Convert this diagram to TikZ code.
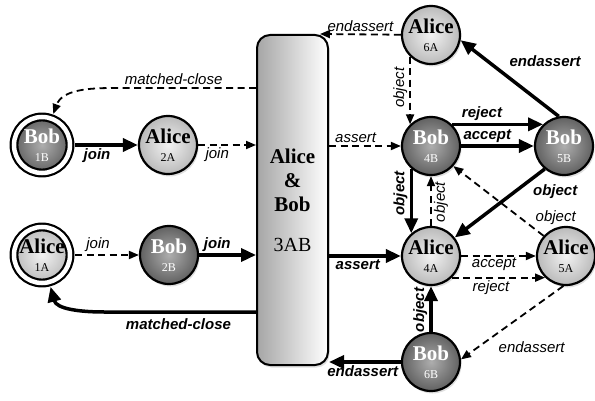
\documentclass[tikz,border=0pt]{standalone}
\usepackage{fontspec}
\setmainfont{Liberation Serif}
\newfontfamily\labelfont{Liberation Sans}
\usetikzlibrary{arrows.meta,positioning,shadows}
\newcommand{\idsize}{\fontsize{12}{14}\selectfont\mdseries}

\begin{document}
\begin{tikzpicture}[x=1pt,y=-1pt,node distance=110pt,
    agent/.style={circle,draw,line width=2.2pt,minimum size=58pt,inner sep=0pt,align=center,
      font=\fontsize{21}{18}\selectfont\bfseries,
      drop shadow={opacity=0.25,shadow xshift=1.5pt,shadow yshift=-2.5pt}},
    alice/.style={inner color=black!5,outer color=black!27},
    bob/.style={inner color=black!32,outer color=black!62,text=white},
    final/.style={double,double distance=4.5pt,minimum size=56pt,outer sep=5pt},
    elabel/.style={font=\fontsize{15}{16}\selectfont\labelfont\itshape,inner sep=2pt},
    slabel/.style={font=\fontsize{15}{16}\selectfont\labelfont\bfseries\itshape},
    strong/.style={draw=black,line width=3.5pt,-{Triangle[length=15pt,width=13pt]}},
    weak/.style={draw=black,line width=1.8pt,dash pattern=on 7pt off 4.5pt,-{Triangle[length=10pt,width=8pt]}}]
  \useasboundingbox (0,0) rectangle (595,401);
  \begin{scope}[every node/.style={agent}]
    \node (1B)[bob,final] at (42,145) {Bob\\{\idsize 1B}};
    \node (2A)[alice,right of=1B,node distance=126pt] {Alice\\{\idsize 2A}};
    \node (1A)[alice,final,below of=1B] {Alice\\{\idsize 1A}};
    \node (2B)[bob,right of=1A,node distance=127pt] {Bob\\{\idsize 2B}};
    \node (4B)[bob] at (431,146) {Bob\\{\idsize 4B}};
    \node (6A)[alice,above of=4B,node distance=111pt] {Alice\\{\idsize 6A}};
    \node (5B)[bob,right of=4B,node distance=133pt] {Bob\\{\idsize 5B}};
    \node (4A)[alice,below of=4B] {Alice\\{\idsize 4A}};
    \node (5A)[alice,right of=4A,node distance=135pt] {Alice\\{\idsize 5A}};
    \node (6B)[bob,below of=4A,node distance=106pt] {Bob\\{\idsize 6B}};
  \end{scope}
  \node (box)[draw,line width=2pt,rounded corners=13pt,minimum width=71pt,minimum height=330pt,
    left color=black!35,right color=white,align=center,font=\fontsize{21}{24}\selectfont\bfseries,
    drop shadow={opacity=0.25,shadow xshift=1.5pt,shadow yshift=-2.5pt}]
    at (292.5,200) {Alice\\\&\\Bob\\[16pt]{\mdseries\fontsize{20}{24}\selectfont 3AB}};
  \begin{scope}[every node/.style={elabel}]
    \path (6A) edge[weak] node[above,pos=0.5] {endassert} ([xshift=-9pt]box.north east);
    \draw[weak] (box.west |- 0,88) -- node[above,pos=0.58] {matched-close} ++(-142,0)
      to[out=180,in=70] (1B);
    \path (1B) edge[strong] node[slabel,below,pos=0.35] {join} (2A);
    \path (2A) edge[weak] node[below,pos=0.33] {join} (box.west |- 2A);
    \path (box.east |- 4B) edge[weak] node[above,pos=0.37] {assert} (4B);
    \path (6A.-134) edge[weak] node[rotate=90,anchor=south,pos=0.46] {object} (4B.134);
    \path (4B.46) edge[strong] node[slabel,above,pos=0.33] {reject} (5B.134);
    \path (4B) edge[strong] node[slabel,above,pos=0.36] {accept} (5B);
    \path (5B.100) edge[strong] node[slabel,anchor=south west,pos=0.6,xshift=6pt] {endassert} (6A.-10);
    \path (4B.-131) edge[strong] node[slabel,rotate=90,anchor=south,pos=0.38] {object} (4A.131);
    \path (4A) edge[weak] node[rotate=90,anchor=north,pos=0.48] {object} (4B);
    \path (5B.-130) edge[strong] node[slabel,anchor=north west,pos=0.17] {object} (4A.38);
    \path (5A.138) edge[weak] node[anchor=south west,pos=0.12] {object} (4B.-42);
    \path (box.east |- 4A) edge[strong] node[slabel,below,pos=0.4] {assert} (4A);
    \path (4A) edge[weak] node[below=-1pt,pos=0.44] {accept} (5A);
    \path (4A.-46) edge[weak] node[below,pos=0.42] {reject} (5A.-134);
    \path (6B) edge[strong] node[slabel,rotate=90,anchor=south,pos=0.48] {object} (4A);
    \path (5A.-95) edge[weak] node[anchor=north west,pos=0.66,yshift=-4pt] {endassert} (6B.5);
    \path (6B) edge[strong] node[slabel,below,pos=0.53] {endassert} (box.east |- 6B);
    \path (1A) edge[weak] node[above,pos=0.36] {join} (2B);
    \path (2B) edge[strong] node[slabel,above,pos=0.32] {join} (box.west |- 2B);
    \draw[strong] (box.west |- 0,312) -- node[slabel,below=3pt,pos=0.51] {matched-close} ++(-152,0)
      to[out=180,in=-75] (1A);
  \end{scope}
\end{tikzpicture}
\end{document}
